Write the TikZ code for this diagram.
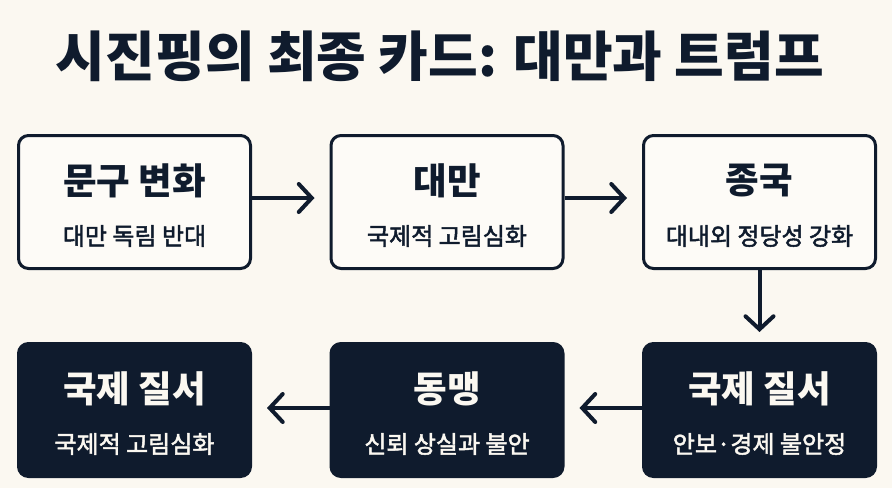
\documentclass[tikz,border=0pt]{standalone}
\usepackage{fontspec}
\setmainfont{Noto Sans CJK KR}
\newfontfamily\subfont[FakeBold=2]{Noto Sans CJK KR}
\usetikzlibrary{positioning,arrows.meta}
\definecolor{paper}{HTML}{FBF8F1}
\definecolor{ink}{HTML}{0F1B2D}
\definecolor{card}{HTML}{FDFBF7}

\begin{document}
\begin{tikzpicture} [
    x=1pt, y=-1pt,
    line width=3pt,
    node distance=312.5pt,
  ]

  \tikzstyle{lightcard} = [
    rectangle,
    rounded corners=10pt,
    minimum width=232pt,
    minimum height=133pt,
    draw=ink,
    fill=card,
  ]
  \tikzstyle{darkcard} = [
    lightcard,
    fill=ink,
  ]
  \tikzstyle{headtext} = [
    font=\fontsize{36.5}{42}\selectfont\bfseries,
    text=ink,
    inner sep=0pt,
  ]
  \tikzstyle{subtext} = [
    font=\subfont\fontsize{24}{28}\selectfont,
    text=ink,
    inner sep=0pt,
  ]
  \tikzstyle{flow} = [
    line width=4pt,
    color=ink,
    -{Straight Barb[length=13pt,width=28pt,line cap=round]},
    shorten >=15pt,
  ]

  \fill[paper] (0,0) rectangle (892,488);
  \useasboundingbox (0,0) rectangle (892,488);

  \node[font=\fontsize{54}{62}\selectfont\bfseries, text=ink] (title) at (440,56)
    {시진핑의 최종 카드: 대만과 트럼프};

  \node[lightcard]                                (change) at (134.5,202) {};
  \node[lightcard,right of=change]                (taiwan) {};
  \node[lightcard,right of=taiwan]                (china)  {};
  \node[darkcard,below of=china,node distance=208pt] (order)  {};
  \node[darkcard,left of=order]                   (ally)   {};
  \node[darkcard,left of=ally]                    (world)  {};

  \node[headtext] (changeH) at ([yshift=21pt]change.center)  {문구 변화};
  \node[subtext]  (changeS) at ([yshift=-34pt]change.center) {대만 독림 반대};
  \node[headtext] (taiwanH) at ([yshift=21pt]taiwan.center)  {대만};
  \node[subtext]  (taiwanS) at ([yshift=-34pt]taiwan.center) {국제적 고림심화};
  \node[headtext] (chinaH)  at ([yshift=21pt]china.center)   {종국};
  \node[subtext]  (chinaS)  at ([yshift=-34pt]china.center)  {대내외 정당성 강화};
  \node[headtext,text=paper] (orderH) at ([yshift=21pt]order.center)  {국제 질서};
  \node[subtext,text=paper]  (orderS) at ([yshift=-34pt]order.center) {안보·경제 불안정};
  \node[headtext,text=paper] (allyH)  at ([yshift=21pt]ally.center)   {동맹};
  \node[subtext,text=paper]  (allyS)  at ([yshift=-34pt]ally.center)  {신뢰 상실과 불안};
  \node[headtext,text=paper] (worldH) at ([yshift=21pt]world.center)  {국제 질서};
  \node[subtext,text=paper]  (worldS) at ([yshift=-34pt]world.center) {국제적 고림심화};

  \path[flow] ([yshift=4pt]change.east) edge ([yshift=4pt]taiwan.west);
  \path[flow] ([yshift=4pt]taiwan.east) edge ([yshift=4pt]china.west);
  \path[flow, shorten >=10pt] (china) edge (order);
  \path[flow] ([yshift=2pt]order.west) edge ([yshift=2pt]ally.east);
  \path[flow] ([yshift=2pt]ally.west)  edge ([yshift=2pt]world.east);

\end{tikzpicture}
\end{document}
